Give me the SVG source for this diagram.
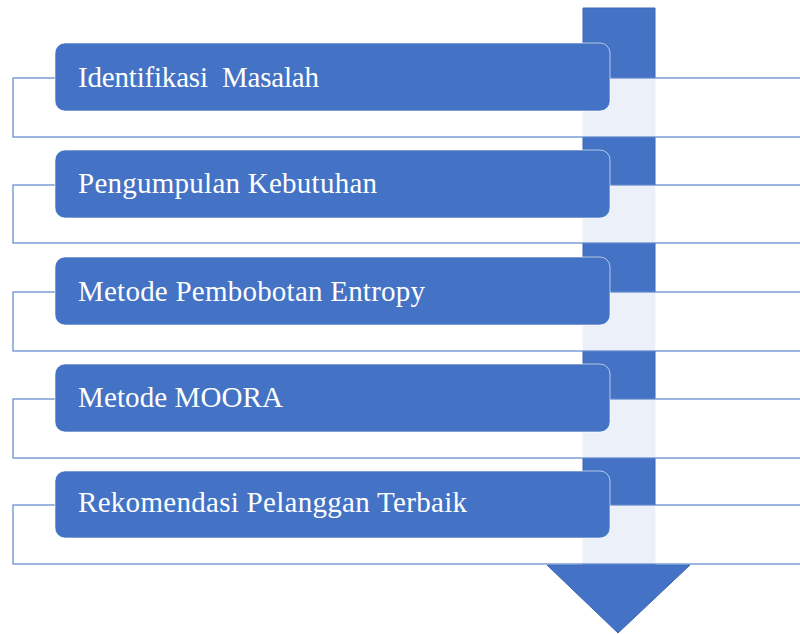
<svg xmlns="http://www.w3.org/2000/svg" width="800" height="634" viewBox="0 0 800 634">
  <style>
    .band { fill: #ffffff; fill-opacity: 0.9; stroke: #5D86CE; stroke-width: 1.2; }
    .step { fill: #4472C4; stroke: #ffffff; stroke-opacity: 0.6; stroke-width: 1; }
    .label { fill: #ffffff; font-family: "Liberation Serif", "Times New Roman", serif; font-size: 29px; white-space: pre; }
    .arrow { fill: #4472C4; stroke: #3B66B3; stroke-width: 1; }
  </style>
  <rect width="800" height="634" fill="#ffffff"/>
  <g id="connectors">
    <polygon class="arrow" points="583,8 655,8 655,565 690,565 618,633 547,565 583,565"/>
  </g>
  <g id="step1">
    <rect class="band" x="13" y="78" width="800" height="59"/>
    <rect class="step" x="55" y="43" width="555" height="68" rx="10" ry="10"/>
    <text class="label" x="78" y="87" textLength="241" lengthAdjust="spacing">Identifikasi&#160; Masalah</text>
  </g>
  <g id="step2">
    <rect class="band" x="13" y="185" width="800" height="58"/>
    <rect class="step" x="55" y="150" width="555" height="68" rx="10" ry="10"/>
    <text class="label" x="78" y="193" textLength="299" lengthAdjust="spacing">Pengumpulan Kebutuhan</text>
  </g>
  <g id="step3">
    <rect class="band" x="13" y="292" width="800" height="59"/>
    <rect class="step" x="55" y="257" width="555" height="68" rx="10" ry="10"/>
    <text class="label" x="78" y="301" textLength="347" lengthAdjust="spacing">Metode Pembobotan Entropy</text>
  </g>
  <g id="step4">
    <rect class="band" x="13" y="399" width="800" height="59"/>
    <rect class="step" x="55" y="364" width="555" height="68" rx="10" ry="10"/>
    <text class="label" x="78" y="407" textLength="205" lengthAdjust="spacing">Metode MOORA</text>
  </g>
  <g id="step5">
    <rect class="band" x="13" y="505" width="800" height="59"/>
    <rect class="step" x="55" y="471" width="555" height="67" rx="10" ry="10"/>
    <text class="label" x="78" y="512" textLength="389" lengthAdjust="spacing">Rekomendasi Pelanggan Terbaik</text>
  </g>
</svg>
